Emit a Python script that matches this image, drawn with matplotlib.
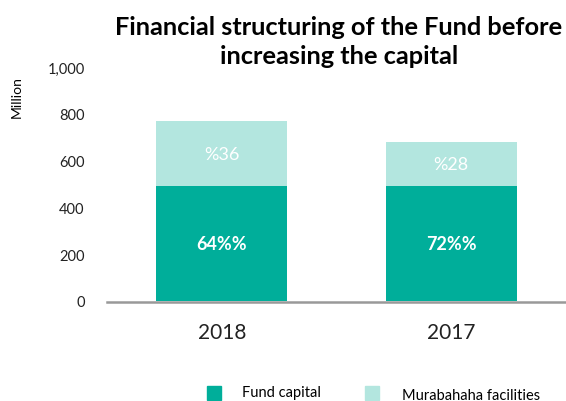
import numpy as np
import matplotlib.pyplot as plt
from matplotlib.patches import Rectangle

years = ['2018', '2017']
fund_capital = [490, 490]
murabahaha = [280, 190]
fund_labels = ['64%%', '72%%']
murabahaha_labels = ['%36', '%28']
yticks = [0, 200, 400, 600, 800, 1000]
ytick_labels = ['0', '200', '400', '600', '800', '1,000']

dark = '#00ae9a'
light = '#b3e6df'
W, H = 566, 402

plt.rcParams['font.family'] = ['Lato', 'DejaVu Sans']

fig = plt.figure(figsize=(W / 100, H / 100), dpi=100)
ax = fig.add_axes([107 / W, (H - 302) / H, (W - 107) / W, 234 / H])

x = np.arange(len(years))
ax.bar(x, fund_capital, width=0.57, color=dark, edgecolor='none')
ax.bar(x, murabahaha, width=0.57, bottom=fund_capital, color=light, edgecolor='none')

for i in range(len(years)):
    ax.text(x[i], fund_capital[i] / 2, fund_labels[i], ha='center', va='center',
            color='white', fontsize=13, fontweight='bold')
    ax.text(x[i], fund_capital[i] + murabahaha[i] / 2, murabahaha_labels[i],
            ha='center', va='center', color='white', fontsize=13)

ax.set_xlim(-0.5, 1.5)
ax.set_ylim(0, 1000)
ax.set_xticks(x)
ax.set_xticklabels(years)
ax.set_yticks(yticks)
ax.set_yticklabels(ytick_labels)
ax.tick_params(axis='both', length=0, labelcolor='#222222')
ax.tick_params(axis='x', pad=14, labelsize=15)
ax.tick_params(axis='y', pad=16, labelsize=10.5)
for s in ['top', 'right', 'left']:
    ax.spines[s].set_visible(False)
ax.spines['bottom'].set_color('#999999')
ax.spines['bottom'].set_linewidth(1.8)
ax.spines['bottom'].set_position(('outward', 1))

fig.text(339 / W, 1 - 42 / H, 'Financial structuring of the Fund before\nincreasing the capital',
         ha='center', va='center', fontsize=18.3, fontweight='bold', linespacing=1.35)
fig.text(17 / W, 1 - 97 / H, 'Million', rotation=90, ha='center', va='center', fontsize=10)

# legend
fig.patches.append(Rectangle((207 / W, 1 - 401 / H), 14 / W, 14 / H,
                             transform=fig.transFigure, color=dark))
fig.text(242 / W, 1 - 393 / H, 'Fund capital', ha='left', va='center', fontsize=10.5)
fig.patches.append(Rectangle((365 / W, 1 - 401 / H), 14 / W, 14 / H,
                             transform=fig.transFigure, color=light))
fig.text(402 / W, 1 - 396 / H, 'Murabahaha facilities', ha='left', va='center', fontsize=10.5)

fig.savefig('out.png', dpi=100)
